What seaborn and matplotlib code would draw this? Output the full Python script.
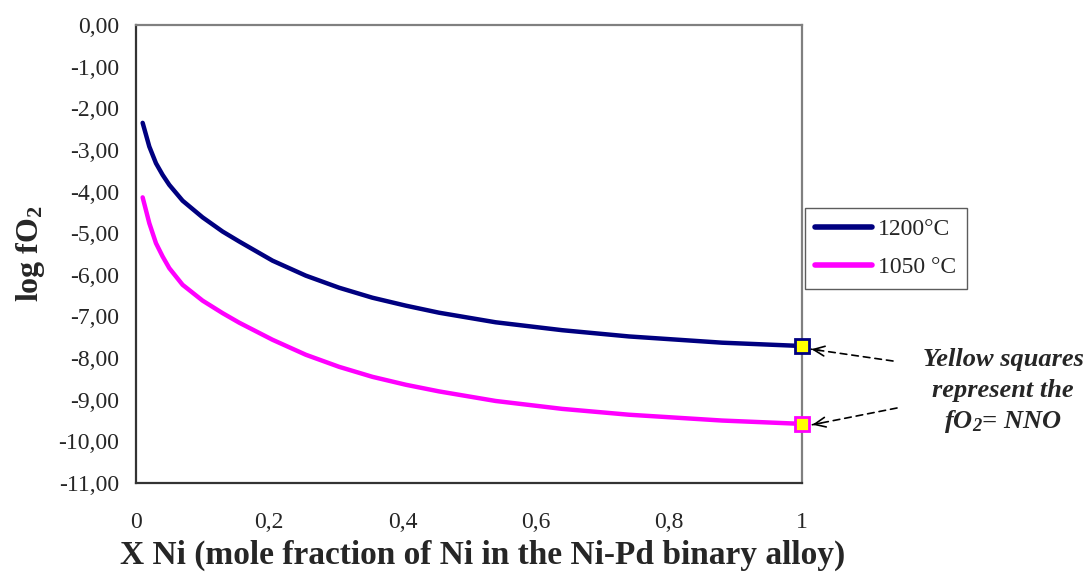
import matplotlib
matplotlib.use("Agg")
import matplotlib.pyplot as plt
import seaborn as sns
import pandas as pd

x_ni = [0.01, 0.02, 0.03, 0.04, 0.05, 0.07, 0.10, 0.13, 0.155, 0.205, 0.255, 0.305, 0.355, 0.405, 0.455, 0.54, 0.64, 0.74, 0.88, 1.00]
logfo2_1200 = [-2.35, -2.92, -3.32, -3.60, -3.84, -4.22, -4.62, -4.96, -5.20, -5.66, -6.02, -6.31, -6.55, -6.74, -6.91, -7.14, -7.33, -7.48, -7.63, -7.71]
logfo2_1050 = [-4.14, -4.76, -5.24, -5.56, -5.84, -6.24, -6.62, -6.92, -7.15, -7.56, -7.92, -8.21, -8.45, -8.64, -8.80, -9.03, -9.22, -9.36, -9.50, -9.58]
series_names = ["1200°C", "1050 °C"]
series_colors = ["#000080", "#FF00FF"]
nno_x = [1.0, 1.0]
nno_y = [-7.71, -9.58]
x_ticks = [0, 0.2, 0.4, 0.6, 0.8, 1.0]
x_tick_labels = ["0", "0,2", "0,4", "0,6", "0,8", "1"]
y_ticks = [0, -1, -2, -3, -4, -5, -6, -7, -8, -9, -10, -11]
y_tick_labels = ["0,00", "-1,00", "-2,00", "-3,00", "-4,00", "-5,00", "-6,00", "-7,00", "-8,00", "-9,00", "-10,00", "-11,00"]

sns.set_style("white")
plt.rcParams["font.family"] = ["Liberation Serif", "DejaVu Serif"]
plt.rcParams["mathtext.fontset"] = "custom"
plt.rcParams["mathtext.rm"] = "Liberation Serif"
plt.rcParams["mathtext.it"] = "Liberation Serif:italic"
plt.rcParams["mathtext.bf"] = "Liberation Serif:bold"
plt.rcParams["mathtext.bfit"] = "Liberation Serif:bold:italic"

df = pd.DataFrame({
    "x": x_ni * 2,
    "y": logfo2_1200 + logfo2_1050,
    "series": [series_names[0]] * len(x_ni) + [series_names[1]] * len(x_ni),
})

fig = plt.figure(figsize=(10.87, 5.72), dpi=100)
ax = fig.add_axes([0.1251, 0.1556, 0.6127, 0.8007])

sns.lineplot(data=df, x="x", y="y", hue="series", palette=dict(zip(series_names, series_colors)),
             linewidth=3.2, ax=ax, legend=True)
for ln in ax.lines:
    ln.set_solid_capstyle("round")
    ln.set_solid_joinstyle("round")

for c, xv, yv in zip(series_colors, nno_x, nno_y):
    ax.plot([xv], [yv], marker="s", markersize=10, markerfacecolor="#FFFF00",
            markeredgecolor=c, markeredgewidth=2, linestyle="none", clip_on=False, zorder=5)

ax.set_xlim(0, 1)
ax.set_ylim(-11, 0)
ax.set_xticks(x_ticks)
ax.set_xticklabels(x_tick_labels, fontsize=17)
ax.set_yticks(y_ticks)
ax.set_yticklabels(y_tick_labels, fontsize=17)
ax.tick_params(axis="both", direction="out", length=6, width=1.2, color="#333333", pad=6)
ax.tick_params(axis="x", pad=15)

for s in ["left", "bottom"]:
    ax.spines[s].set_color("#333333")
    ax.spines[s].set_linewidth(1.6)
for s in ["top", "right"]:
    ax.spines[s].set_color("#808080")
    ax.spines[s].set_linewidth(1.6)
    ax.spines[s].set_visible(True)

ax.set_xlabel("X Ni (mole fraction of Ni in the Ni-Pd binary alloy)", fontsize=24, fontweight="bold")
ax.xaxis.set_label_coords(0.52, -0.124)
ax.set_ylabel(r"log fO$_\mathbf{2}$", fontsize=23, fontweight="bold", labelpad=8)

leg = ax.legend(loc="upper left", bbox_to_anchor=(1.004, 0.600), fontsize=17, frameon=True,
                fancybox=False, edgecolor="#333333", handlelength=2.4, borderpad=0.45,
                labelspacing=0.7, handletextpad=0.25, borderaxespad=0.0)
leg.get_frame().set_linewidth(1.0)
for line in leg.get_lines():
    line.set_linewidth(4)

fig.text(0.923, 0.371, "Yellow squares", fontsize=19, fontweight="bold", style="italic", ha="center", va="center")
fig.text(0.923, 0.317, "represent the", fontsize=19, fontweight="bold", style="italic", ha="center", va="center")
fig.text(0.923, 0.263, r"$\mathbfit{fO_2}$= NNO", fontsize=19, fontweight="bold", style="italic", ha="center", va="center")

for (tx, ty), (hx, hy) in [((893, 361), (810, 349)), ((897, 408), (811, 425))]:
    p0 = (tx / 1087, 1 - ty / 572)
    p1 = (hx / 1087, 1 - hy / 572)
    fig.add_artist(matplotlib.patches.FancyArrowPatch(
        p0, p1, transform=fig.transFigure, arrowstyle="-", linestyle=(0, (4, 3)),
        color="black", linewidth=1.2, mutation_scale=1, shrinkA=0, shrinkB=1))
    # solid short head segment at the tip
    fr = 0.12
    pm = (p1[0] + (p0[0] - p1[0]) * fr, p1[1] + (p0[1] - p1[1]) * fr)
    fig.add_artist(matplotlib.patches.FancyArrowPatch(
        pm, p1, transform=fig.transFigure, arrowstyle="->,head_length=8,head_width=3.5",
        linestyle="-", color="black", linewidth=1.2, mutation_scale=1, shrinkA=0, shrinkB=1))

fig.savefig("out.png", dpi=100)
